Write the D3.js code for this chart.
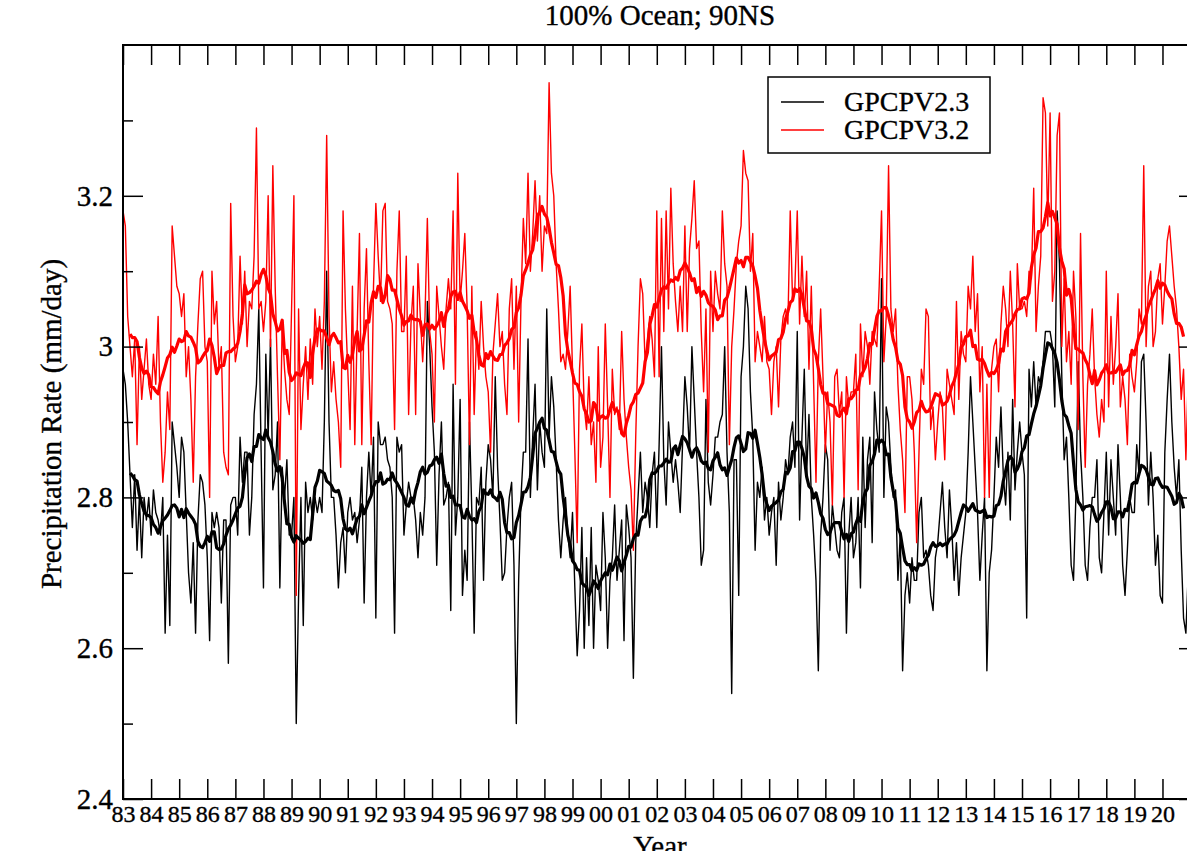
<!DOCTYPE html>
<html>
<head>
<meta charset="utf-8">
<script src="https://cdn.jsdelivr.net/npm/d3@7/dist/d3.min.js"></script>
<style>
  body { margin: 0; background: #fff; }
  svg text { font-family: "Liberation Serif", "Times New Roman", serif; fill: #000;
             stroke: #000; stroke-width: 0.35px; }
</style>
</head>
<body>
<div id="chart"></div>
<script>
// monthly values, Jan 1983 .. Dec 2020, one row per year
const gpcp23 = [
  2.97, 2.95, 2.90, 2.83, 2.76, 2.83, 2.73, 2.80, 2.72, 2.80, 2.77, 2.80,
  2.75, 2.81, 2.78, 2.77, 2.75, 2.80, 2.62, 2.75, 2.63, 2.90, 2.87, 2.84,
  2.80, 2.88, 2.86, 2.78, 2.70, 2.66, 2.74, 2.62, 2.77, 2.83, 2.82, 2.79,
  2.72, 2.61, 2.78, 2.76, 2.78, 2.76, 2.66, 2.77, 2.77, 2.58, 2.79, 2.80,
  2.80, 2.75, 2.88, 2.82, 2.86, 2.86, 2.75, 2.80, 2.91, 2.95, 3.05, 2.86,
  2.68, 2.99, 2.88, 3.01, 2.81, 2.83, 2.90, 2.68, 2.84, 2.80, 2.85, 2.75,
  2.75, 2.80, 2.50, 2.67, 2.80, 2.63, 2.82, 2.78, 2.80, 2.77, 2.80, 2.78,
  2.80, 2.78, 2.90, 3.10, 2.90, 2.80, 2.80, 2.75, 2.68, 2.74, 2.76, 2.70,
  2.78, 2.80, 2.77, 2.78, 2.74, 2.77, 2.84, 2.66, 2.80, 2.86, 2.80, 2.88,
  2.64, 2.90, 2.87, 2.87, 2.88, 2.85, 2.84, 2.80, 2.62, 2.88, 2.86, 2.87,
  2.75, 2.79, 2.82, 2.80, 2.80, 2.77, 2.72, 2.78, 2.75, 2.80, 3.06, 3.00,
  2.92, 2.86, 2.71, 2.83, 2.90, 2.79, 2.80, 2.82, 2.65, 2.95, 2.75, 2.80,
  2.93, 2.67, 2.73, 2.69, 2.90, 2.78, 2.62, 2.80, 2.79, 2.84, 2.69, 2.82,
  2.87, 2.85, 2.80, 2.96, 2.84, 2.77, 2.69, 2.70, 2.76, 2.80, 2.82, 2.71,
  2.50, 2.69, 2.80, 2.86, 2.86, 3.01, 2.80, 2.88, 2.95, 2.81, 2.90, 2.86,
  2.84, 3.05, 2.88, 2.96, 2.92, 2.85, 2.77, 2.72, 2.77, 2.80, 2.75, 2.72,
  2.78, 2.68, 2.59, 2.65, 2.76, 2.60, 2.72, 2.63, 2.76, 2.60, 2.71, 2.69,
  2.65, 2.78, 2.72, 2.60, 2.69, 2.72, 2.79, 2.69, 2.73, 2.77, 2.61, 2.79,
  2.76, 2.72, 2.56, 2.74, 2.80, 2.86, 2.78, 2.82, 2.80, 2.76, 2.83, 2.86,
  2.76, 2.87, 3.00, 2.85, 2.79, 2.90, 2.86, 2.82, 2.85, 2.82, 2.78, 2.87,
  2.96, 2.92, 2.86, 3.00, 2.93, 2.86, 2.80, 2.71, 2.73, 2.93, 2.82, 2.79,
  2.83, 2.88, 2.88, 2.90, 2.91, 3.00, 2.86, 2.78, 2.54, 2.85, 2.85, 2.67,
  2.96, 3.00, 3.08, 3.05, 2.94, 2.88, 2.73, 2.82, 2.80, 2.84, 2.77, 2.80,
  2.75, 2.78, 2.80, 2.71, 2.82, 2.77, 2.80, 2.85, 2.83, 2.88, 2.90, 2.84,
  3.02, 2.77, 2.88, 2.97, 2.83, 2.91, 2.80, 2.75, 2.69, 2.57, 2.75, 2.80,
  2.87, 2.85, 2.73, 2.79, 2.76, 2.73, 2.72, 2.78, 2.80, 2.62, 2.75, 2.80,
  2.72, 2.74, 2.80, 2.68, 2.88, 2.76, 2.85, 2.88, 2.74, 2.94, 2.89, 2.86,
  3.09, 2.80, 2.92, 2.90, 2.84, 2.80, 2.81, 2.69, 2.75, 2.57, 2.67, 2.70,
  2.66, 2.72, 2.69, 2.69, 2.78, 2.80, 2.72, 2.73, 2.71, 2.67, 2.65, 2.72,
  2.74, 2.78, 2.82, 2.76, 2.72, 2.81, 2.76, 2.69, 2.74, 2.67, 2.72, 2.75,
  2.78, 2.86, 2.96, 2.90, 2.84, 2.78, 2.69, 2.75, 2.80, 2.57, 2.70, 2.73,
  2.80, 2.88, 2.84, 2.92, 2.83, 2.79, 2.86, 2.77, 2.93, 2.81, 2.86, 2.90,
  2.86, 2.83, 2.64, 2.97, 2.92, 2.98, 2.92, 2.96, 2.95, 2.98, 3.02, 3.02,
  3.02, 3.00, 2.92, 3.18, 3.11, 2.96, 2.85, 2.88, 2.80, 2.71, 2.69, 2.80,
  2.98, 2.86, 2.80, 2.71, 2.69, 2.76, 2.80, 2.80, 2.85, 2.72, 2.70, 2.78,
  2.86, 2.75, 2.85, 2.80, 2.75, 2.87, 2.80, 2.71, 2.67, 2.73, 2.80, 2.78,
  2.78, 2.87, 2.83, 2.98, 2.99, 2.90, 2.79, 2.86, 2.80, 2.71, 2.75, 2.67,
  2.66, 2.86, 2.93, 2.99, 2.90, 2.84, 2.80, 2.85, 2.73, 2.64, 2.62, 2.70
];
const gpcp32 = [
  3.18, 3.16, 3.04, 3.00, 2.96, 3.01, 2.87, 3.00, 2.93, 2.97, 3.01, 2.95,
  2.93, 2.99, 2.95, 3.04, 2.90, 2.82, 2.86, 2.94, 2.89, 3.16, 3.12, 3.08,
  3.07, 3.04, 3.07, 2.96, 3.00, 2.93, 2.82, 2.96, 3.03, 3.09, 3.10, 3.00,
  2.98, 2.80, 3.10, 3.03, 3.06, 2.97, 3.00, 2.86, 2.84, 2.83, 3.19, 3.04,
  2.98, 3.00, 3.12, 3.03, 3.10, 3.00, 3.06, 3.05, 3.12, 3.29, 3.05, 3.06,
  3.02, 3.06, 3.20, 3.00, 3.24, 3.08, 2.96, 2.85, 3.03, 2.97, 2.93, 2.91,
  3.05, 3.20, 2.67, 3.05, 2.89, 2.95, 3.00, 2.93, 3.01, 2.95, 3.05, 3.00,
  3.04, 2.97, 3.06, 3.28, 3.04, 2.94, 2.98, 2.93, 2.90, 2.84, 3.18, 3.05,
  2.97, 2.89, 3.08, 2.87, 3.02, 3.15, 2.87, 3.05, 3.13, 2.98, 2.87, 3.08,
  3.19, 3.12, 3.06, 3.18, 3.19, 3.06, 3.05, 3.03, 2.89, 3.10, 3.18, 3.02,
  3.02, 3.12, 2.91, 3.03, 3.08, 2.91, 3.11, 3.04, 2.98, 3.04, 3.17, 3.02,
  2.99, 2.90, 3.08, 3.04, 3.00, 2.97, 3.05, 3.09, 3.05, 3.18, 2.95, 3.23,
  3.06, 3.10, 3.15, 3.05, 2.87, 3.08, 2.91, 3.02, 2.97, 3.06, 3.00, 2.96,
  2.94, 2.86, 2.99, 3.03, 3.07, 3.00, 3.02, 2.95, 2.91, 3.05, 3.09, 2.97,
  3.08, 2.90, 3.06, 3.17, 3.11, 3.23, 3.10, 3.15, 3.22, 3.14, 3.20, 3.10,
  3.16, 3.15, 3.35, 3.23, 3.20, 3.11, 3.05, 2.98, 2.99, 2.97, 3.02, 3.08,
  2.97, 2.86, 2.74, 2.97, 3.03, 2.92, 2.89, 2.96, 2.87, 2.90, 2.82, 3.00,
  2.84, 2.88, 3.03, 2.92, 2.80, 2.97, 2.91, 2.92, 2.89, 3.02, 2.93, 2.88,
  2.84, 2.81, 2.73, 2.88, 3.00, 3.09, 3.07, 2.98, 3.01, 3.04, 3.01, 2.96,
  3.18, 2.96, 3.17, 3.02, 3.18, 3.05, 3.21, 3.11, 3.06, 3.02, 3.08, 3.02,
  3.16, 3.02, 3.13, 3.17, 3.22, 3.13, 3.14, 3.02, 2.94, 3.05, 2.86, 3.10,
  3.02, 3.10, 3.07, 3.05, 3.18, 3.11, 3.08, 2.87, 3.00, 3.05, 3.11, 3.14,
  3.16, 3.26, 3.23, 3.22, 3.10, 3.15, 2.98, 3.02, 3.00, 2.98, 3.04, 2.98,
  2.97, 2.91, 2.98, 3.00, 2.92, 3.01, 3.04, 3.05, 3.03, 3.18, 3.06, 3.08,
  3.18, 3.03, 3.12, 3.04, 3.10, 2.97, 3.08, 2.95, 2.82, 2.98, 3.05, 2.96,
  2.86, 2.94, 2.90, 2.79, 2.96, 2.97, 2.91, 2.94, 2.80, 2.96, 2.92, 2.94,
  2.94, 2.99, 2.81, 3.03, 2.96, 3.02, 3.00, 2.95, 3.02, 3.01, 3.00, 3.08,
  3.18, 2.98, 3.04, 3.24, 3.05, 3.02, 3.05, 2.95, 2.89, 2.85, 2.78, 2.96,
  2.96, 2.93, 2.86, 2.74, 2.86, 2.97, 2.95, 3.05, 3.04, 2.89, 2.92, 2.85,
  2.90, 2.94, 2.92, 2.85, 2.97, 2.95, 2.93, 2.91, 3.06, 2.93, 3.02, 2.99,
  2.98, 3.08, 3.05, 3.12, 3.02, 3.07, 2.94, 3.00, 2.80, 2.95, 2.80, 2.97,
  3.00, 3.01, 2.94, 3.03, 3.08, 3.05, 3.00, 3.10, 3.03, 2.92, 3.11, 3.05,
  3.05, 3.06, 3.04, 3.10, 3.09, 3.21, 3.02, 3.08, 3.12, 3.33, 3.31, 3.16,
  3.31, 3.06, 3.10, 3.28, 3.31, 3.00, 3.09, 2.98, 3.02, 2.95, 3.10, 3.04,
  2.89, 3.15, 2.96, 2.84, 2.95, 2.99, 3.05, 2.96, 2.91, 2.88, 2.93, 2.90,
  3.10, 2.92, 3.04, 2.95, 3.00, 3.07, 2.92, 2.96, 2.93, 2.87, 2.99, 2.96,
  2.94, 2.98, 3.05, 3.03, 3.24, 3.00, 3.08, 3.10, 3.00, 3.02, 3.09, 3.11,
  3.03, 3.08, 3.14, 3.16, 3.12, 3.08, 3.05, 3.00, 2.93, 2.97, 2.85, 2.96
];
const seriesNames = ["GPCPV2.3", "GPCPV3.2"];
const yearLabels = ["83","84","85","86","87","88","89","90","91","92","93","94","95",
  "96","97","98","99","00","01","02","03","04","05","06","07","08","09","10","11",
  "12","13","14","15","16","17","18","19","20"];
const yMajor = [2.4, 2.6, 2.8, 3.0, 3.2];
const yMinor = [2.5, 2.7, 2.9, 3.1, 3.3];
const startYear = 1983;

// set up the svg
const width = 1187, height = 851;
const plot = { left: 123, top: 45, right: 1199, bottom: 799 };
const svg = d3.select("#chart").append("svg")
    .attr("width", width).attr("height", height)
    .style("display", "block");
svg.append("rect").attr("width", width).attr("height", height).attr("fill", "#fff");

// scales
const xScale = d3.scaleLinear().domain([1983, 2021.3]).range([plot.left, plot.right]);
const yScale = d3.scaleLinear().domain([2.4, 3.4]).range([plot.bottom, plot.top]);
const yearTicks = yearLabels.map((d, i) => startYear + i);

// 12 month running mean
function runningMean(vals) {
    return vals.map((v, i) => {
        const part = vals.slice(Math.max(0, i - 6), Math.min(vals.length, i + 6));
        return part.length >= 9 ? d3.mean(part) : null;
    });
}
const toPoints = vals => vals.map((v, i) => ({ t: startYear + i / 12, v: v }));

svg.append("clipPath").attr("id", "clip").append("rect")
    .attr("x", plot.left).attr("y", plot.top)
    .attr("width", plot.right - plot.left).attr("height", plot.bottom - plot.top);

const lineGen = d3.line()
    .defined(d => d.v != null)
    .x(d => xScale(d.t)).y(d => yScale(d.v));

const lines = svg.append("g").attr("clip-path", "url(#clip)").attr("fill", "none")
    .attr("stroke-linejoin", "round");
lines.append("path").datum(toPoints(gpcp23))
    .attr("stroke", "#000").attr("stroke-width", 1.4).attr("d", lineGen);
lines.append("path").datum(toPoints(gpcp32))
    .attr("stroke", "#f00").attr("stroke-width", 1.4).attr("d", lineGen);
lines.append("path").datum(toPoints(runningMean(gpcp23)))
    .attr("stroke", "#000").attr("stroke-width", 3.2).attr("d", lineGen);
lines.append("path").datum(toPoints(runningMean(gpcp32)))
    .attr("stroke", "#f00").attr("stroke-width", 3.2).attr("d", lineGen);

// axes, ticks all point inwards
function styleAxis(g) {
    g.select(".domain").remove();
    g.selectAll(".tick line").attr("stroke", "#000").attr("stroke-width", 1.5);
}
svg.append("g").attr("transform", "translate(0," + plot.bottom + ")")
    .call(d3.axisBottom(xScale).tickValues(yearTicks).tickSize(-20).tickPadding(6)
        .tickFormat((d, i) => yearLabels[i]))
    .call(styleAxis)
    .selectAll("text").style("font-size", "24px");
svg.append("g").attr("transform", "translate(0," + plot.top + ")")
    .call(d3.axisTop(xScale).tickValues(yearTicks).tickSize(-20).tickFormat(""))
    .call(styleAxis);
svg.append("g").attr("transform", "translate(" + plot.left + ",0)")
    .call(d3.axisLeft(yScale).tickValues(yMajor).tickSize(-20).tickPadding(10)
        .tickFormat(d => String(+d.toFixed(1))))
    .call(styleAxis)
    .selectAll("text").style("font-size", "29px");
svg.append("g").attr("transform", "translate(" + plot.left + ",0)")
    .call(d3.axisLeft(yScale).tickValues(yMinor).tickSize(-10).tickFormat(""))
    .call(styleAxis);
svg.append("g").attr("transform", "translate(" + plot.right + ",0)")
    .call(d3.axisRight(yScale).tickValues(yMajor).tickSize(-20).tickFormat(""))
    .call(styleAxis);
svg.append("g").attr("transform", "translate(" + plot.right + ",0)")
    .call(d3.axisRight(yScale).tickValues(yMinor).tickSize(-10).tickFormat(""))
    .call(styleAxis);

// frame
svg.append("rect").attr("x", plot.left).attr("y", plot.top)
    .attr("width", plot.right - plot.left).attr("height", plot.bottom - plot.top)
    .attr("fill", "none").attr("stroke", "#000").attr("stroke-width", 2);

// title and axis labels
svg.append("text").attr("x", 660).attr("y", 25).attr("text-anchor", "middle")
    .style("font-size", "29px").text("100% Ocean; 90NS");
svg.append("text").attr("x", 660).attr("y", 856).attr("text-anchor", "middle")
    .style("font-size", "29px").text("Year");
svg.append("text").attr("transform", "translate(61,424) rotate(-90)")
    .attr("text-anchor", "middle").style("font-size", "29px")
    .text("Precipitation Rate (mm/day)");

// legend
const legend = svg.append("g").attr("transform", "translate(768,77)");
legend.append("rect").attr("width", 222).attr("height", 76)
    .attr("fill", "#fff").attr("stroke", "#000").attr("stroke-width", 1.5);
legend.selectAll("line").data(seriesNames).join("line")
    .attr("x1", 13).attr("x2", 56)
    .attr("y1", (d, i) => 25 + i * 28).attr("y2", (d, i) => 25 + i * 28)
    .attr("stroke", (d, i) => i ? "#f00" : "#000").attr("stroke-width", 1.4);
legend.selectAll("text").data(seriesNames).join("text")
    .attr("x", 76).attr("y", (d, i) => 34 + i * 28)
    .style("font-size", "28px").text(d => d);
</script>
</body>
</html>
